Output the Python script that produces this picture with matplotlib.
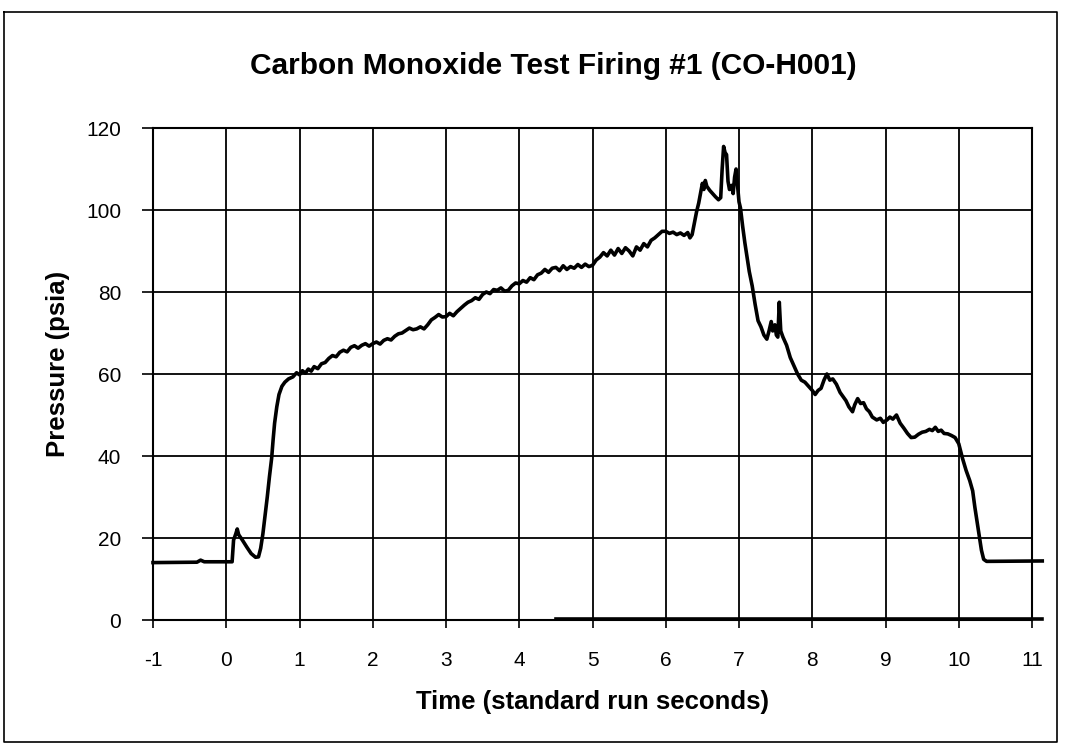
import matplotlib
matplotlib.use("Agg")
import matplotlib.pyplot as plt
from matplotlib.lines import Line2D

plt.rcParams['font.family'] = ['Liberation Sans', 'DejaVu Sans']
plt.rcParams['axes.unicode_minus'] = False

title = "Carbon Monoxide Test Firing #1 (CO-H001)"
xlabel = "Time (standard run seconds)"
ylabel = "Pressure (psia)"
xticks = list(range(-1, 12))
yticks = list(range(0, 121, 20))

# chamber pressure trace
time_s = [-1.0, -0.4, -0.35, -0.3, 0.08, 0.10, 0.13, 0.15, 0.17, 0.22, 0.28, 0.34, 0.40, 0.44,
          0.47, 0.50, 0.53, 0.56, 0.59, 0.62, 0.64, 0.66, 0.69, 0.72, 0.76, 0.80, 0.85, 0.91,
          0.96, 1.00, 1.04, 1.08, 1.12, 1.16, 1.20, 1.25, 1.30, 1.35, 1.40, 1.45, 1.50, 1.55,
          1.60, 1.65, 1.70, 1.75, 1.80, 1.85, 1.90, 1.95, 2.00, 2.05, 2.10, 2.15, 2.20, 2.25,
          2.30, 2.35, 2.40, 2.45, 2.50, 2.55, 2.60, 2.65, 2.70, 2.75, 2.80, 2.85, 2.90, 2.95,
          3.00, 3.05, 3.10, 3.15, 3.20, 3.25, 3.30, 3.35, 3.40, 3.45, 3.50, 3.55, 3.60, 3.65,
          3.70, 3.75, 3.80, 3.85, 3.90, 3.95, 4.00, 4.05, 4.10, 4.15, 4.20, 4.25, 4.30, 4.35,
          4.40, 4.45, 4.50, 4.55, 4.60, 4.65, 4.70, 4.75, 4.80, 4.85, 4.90, 4.95, 5.00, 5.05,
          5.10, 5.15, 5.20, 5.25, 5.30, 5.35, 5.40, 5.45, 5.50, 5.55, 5.60, 5.65, 5.70, 5.75,
          5.80, 5.85, 5.90, 5.95, 6.00, 6.05, 6.10, 6.15, 6.20, 6.25, 6.30, 6.33, 6.36, 6.39,
          6.42, 6.45, 6.48, 6.50, 6.52, 6.54, 6.56, 6.60, 6.64, 6.68, 6.72, 6.75, 6.77, 6.79,
          6.81, 6.83, 6.85, 6.87, 6.90, 6.92, 6.94, 6.96, 6.98, 7.00, 7.02, 7.05, 7.08, 7.11,
          7.14, 7.18, 7.22, 7.26, 7.30, 7.34, 7.38, 7.41, 7.44, 7.46, 7.49, 7.51, 7.53, 7.55,
          7.57, 7.60, 7.65, 7.70, 7.75, 7.80, 7.85, 7.90, 7.95, 8.00, 8.04, 8.08, 8.12, 8.16,
          8.20, 8.24, 8.28, 8.33, 8.38, 8.42, 8.46, 8.50, 8.55, 8.58, 8.62, 8.66, 8.70, 8.74,
          8.78, 8.82, 8.88, 8.93, 8.97, 9.02, 9.06, 9.10, 9.15, 9.20, 9.25, 9.30, 9.35, 9.40,
          9.45, 9.50, 9.55, 9.60, 9.64, 9.68, 9.72, 9.76, 9.80, 9.85, 9.90, 9.95, 10.00, 10.05,
          10.10, 10.15, 10.19, 10.22, 10.25, 10.28, 10.31, 10.34, 10.38, 11.14]
pressure_psia = [14.0, 14.1, 14.6, 14.2, 14.2, 19.5, 21.0, 22.2, 20.8, 19.5, 17.8, 16.2, 15.3, 15.4,
                 17.5, 21.0, 25.5, 30.0, 35.0, 39.5, 44.0, 48.0, 52.0, 55.0, 57.0, 58.0, 58.8, 59.3,
                 60.3, 59.8, 60.8, 60.2, 61.2, 60.7, 61.8, 61.3, 62.5, 62.8, 63.8, 64.5, 64.2, 65.3,
                 65.8, 65.4, 66.5, 66.9, 66.3, 67.0, 67.4, 66.8, 67.4, 67.8, 67.3, 68.2, 68.6, 68.3,
                 69.2, 69.8, 70.0, 70.6, 71.2, 70.8, 71.0, 71.5, 71.0, 72.0, 73.2, 73.8, 74.5, 73.9,
                 74.0, 74.8, 74.2, 75.2, 76.0, 76.8, 77.5, 77.9, 78.6, 78.2, 79.4, 80.0, 79.6, 80.6,
                 80.4, 81.0, 80.2, 80.4, 81.5, 82.2, 82.0, 82.8, 82.4, 83.5, 83.0, 84.2, 84.6, 85.5,
                 84.8, 85.8, 86.0, 85.2, 86.4, 85.5, 86.2, 85.8, 86.7, 86.0, 86.8, 86.2, 86.5, 87.8,
                 88.5, 89.6, 88.8, 90.2, 89.0, 90.6, 89.4, 90.8, 90.0, 88.8, 91.0, 90.2, 91.8, 91.0,
                 92.6, 93.2, 94.0, 94.8, 94.8, 94.3, 94.6, 94.0, 94.4, 93.8, 94.5, 93.2, 94.0, 96.8,
                 99.5, 101.7, 104.5, 106.5, 105.0, 107.2, 105.8, 104.8, 104.0, 103.2, 102.5, 103.0, 110.0, 115.5,
                 114.0, 113.5, 107.0, 105.0, 106.0, 104.0, 108.0, 110.0, 106.0, 102.0, 100.5, 96.0, 92.0, 88.5,
                 85.0, 81.5, 77.0, 73.0, 71.5, 69.5, 68.5, 70.5, 72.8, 70.5, 72.0, 69.5, 69.0, 77.5,
                 70.5, 69.0, 67.0, 64.0, 62.0, 60.0, 58.5, 58.0, 57.0, 56.0, 55.0, 56.0, 56.5, 58.5,
                 60.0, 58.5, 58.8, 57.5, 55.5, 54.5, 53.5, 52.0, 50.8, 52.5, 54.0, 52.8, 53.0, 51.5,
                 50.8, 49.5, 48.8, 49.2, 48.2, 48.8, 49.5, 49.0, 50.0, 48.0, 46.8, 45.5, 44.5, 44.6,
                 45.3, 45.8, 46.0, 46.5, 46.2, 47.0, 46.0, 46.3, 45.5, 45.4, 45.0, 44.5, 43.0, 39.5,
                 36.5, 34.0, 31.5, 27.5, 24.0, 20.5, 17.0, 14.8, 14.3, 14.4]

# second trace lying near zero
time2_s = [4.5, 11.14]
pressure2_psia = [0.3, 0.3]

fig = plt.figure(figsize=(10.65, 7.46), dpi=100)
ax = fig.add_axes([153/1065, 1 - 620/746, (1032 - 153)/1065, (620 - 128)/746])

ax.plot(time_s, pressure_psia, color='black', lw=2.6, clip_on=False, zorder=3)
ax.plot(time2_s, pressure2_psia, color='black', lw=2.6, clip_on=False, zorder=3)

ax.set_xlim(-1, 11)
ax.set_ylim(0, 120)
ax.set_xticks(xticks)
ax.set_yticks(yticks)
ax.grid(True, color='black', lw=1.3)
ax.set_axisbelow(True)
for s in ax.spines.values():
    s.set_color('black')
    s.set_linewidth(1.5)
ax.tick_params(axis='x', direction='out', length=6, width=1.2, labelsize=15, pad=16)
ax.tick_params(axis='y', direction='out', length=8, width=1.2, labelsize=15, pad=15)

ax.set_xlabel(xlabel, fontsize=18.5, fontweight='bold', labelpad=15)
ax.set_ylabel(ylabel, fontsize=18.5, fontweight='bold')
ax.yaxis.set_label_coords(-0.094, 0.52)
fig.text(553/1065, 1 - 66/746, title, fontsize=21.5, fontweight='bold', ha='center', va='center')

# page border around the chart
W, H = 1065, 746
fig.add_artist(Line2D([4/W, 1057/W, 1057/W, 4/W, 4/W],
                      [1 - 12/H, 1 - 12/H, 1 - 742/H, 1 - 742/H, 1 - 12/H],
                      transform=fig.transFigure, color='black', lw=1.2))

fig.savefig('out.png', dpi=100)
